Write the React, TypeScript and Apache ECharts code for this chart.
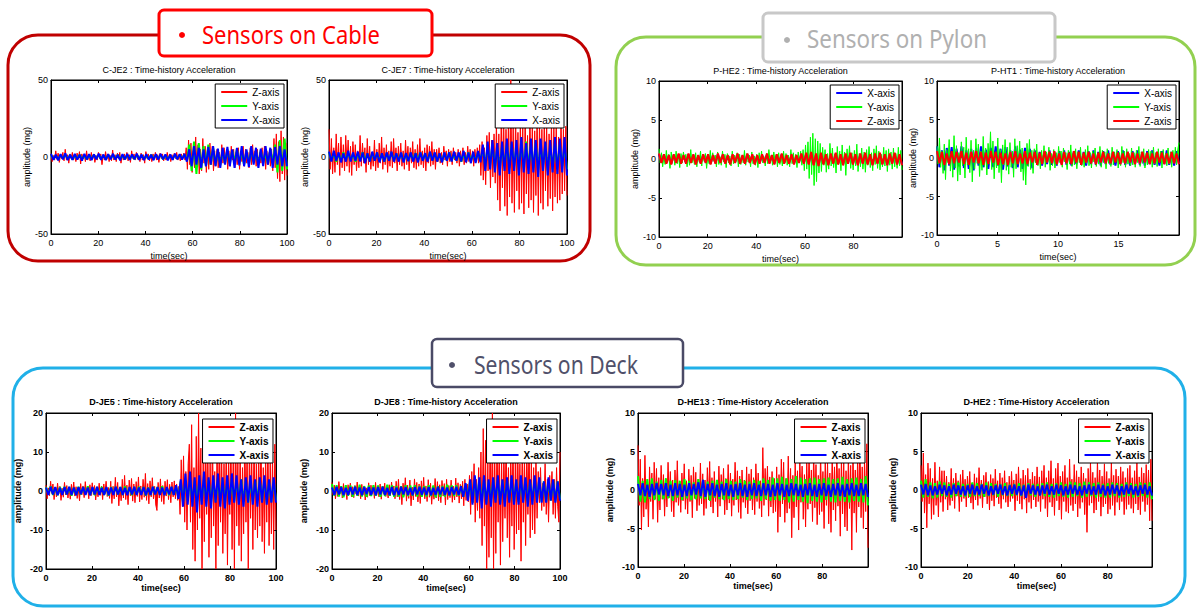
import React, { useEffect, useRef } from 'react';
import * as echarts from 'echarts';

// ---------- C-JE2 (cable) ----------
const cje2Z = [2,-3,1,-2,4,-1.5,2.5,-3.5,1,-1,3,-2.5,5,-2,1.5,-4,2,-1,3,-2,
  1,-3,2.5,-1.5,3.5,-4.5,2,-1,1.5,-3,4,-2,1,-2.5,3,-1.5,2,-3.5,1,-2,
  3,-1,2,-5,1.5,-2,3.5,-1.5,2,-3,1,-2.5,4.5,-2,1.5,-3,2.5,-1,3,-4,
  1,-2,2,-1.5,3,-2.5,1.5,-3.5,4,-1,2,-2,3,-1.5,1,-3,2.5,-2,1.5,-4,
  3.5,-1,2,-2.5,1,-3,2,-1.5,3,-2,1.5,-3.5,2.5,-1,2,-2.5,1,-2,3,-1.5,
  2,-3,1.5,-2,2.5,-1,3,-2,1.5,-2.5,2,-1,2.5,-2,
  6,-8,11,-5,9,-10,4,-7,13,-6,8,-11,5,-9,12,-4,7,-10,6,-8,9,-5,7,-9,4,-6,
  5,-7,3,-6,8,-4,6,-3,5,-8,4,-6,7,-2,5,-7,3,-5,6,-8,4,-3,7,-6,5,-4,3,-7,6,-5,8,-3,4,-6,5,-7,3,-4,6,-5,7,-8,4,-5,3,-6,5,
  -9,12,-7,15,-14,10,-16,17,-11,13,-15,9,-12];
const cje2Y = [1.5,-1.2,1,-1.5,1.3,-1,1.4,-1.2,1.1,-1.5,1.2,-1,1.5,-1.3,1,-1.4,1.2,-1.1,1.5,-1,
  1.3,-1.2,1,-1.5,1.4,-1,1.2,-1.3,1.5,-1.1,1,-1.4,1.3,-1.2,1.1,-1.5,1.4,-1,1.2,-1.3,
  1,-1.2,1.5,-1.1,1.3,-1,1.4,-1.5,1.1,-1.2,1,-1.3,1.5,-1.1,1.2,-1,1.4,
  -2,8,-9,10,-11,9,-8,7,-6,8,-5,6,-5,
  4,-5,3.5,-4,5,-4.5,4,-3,5,-4,3.5,-5,4,-4.5,5,-3.5,4,-5,4.5,-4,3,-4.5,5,-4,
  8,-10,11,-9,12,-8];
const cje2X = [2,-1.8,1.5,-2.2,1.8,-1.5,2.3,-2,1.6,-1.9,2.1,-1.7,1.5,-2.3,2,-1.6,1.8,-2.1,1.7,-1.5,
  2.2,-1.8,1.6,-2,1.9,-1.5,2.1,-1.7,1.5,-2.2,1.8,-1.6,2,-1.9,1.7,-1.5,2.2,-1.8,1.6,-2,
  1.9,-1.7,1.5,-2.1,1.8,-1.6,2,-1.5,1.7,-2.2,1.6,-1.8,2.1,-1.5,1.9,-1.7,2,
  -3,5,-6,7,-5,6,-7,5,-6,6.5,-5,7,-6,5.5,-7,6,-5,6.5,-6,5,-7,6,-5.5,7,-6,5,-6.5,7,-5,6,
  -7,5.5,-6,7,-5,6,-7,6.5,-5,7,-6,5,-6];

// ---------- C-JE7 (cable) ----------
const cje7Z = [18,-8,12,-11,6,-10,15,-5,9,-12,13,-7,8,-9,14,-6,11,-10,7,-12,
  10,-5,8,-9,4,-7,14,-6,9,-4,6,-10,12,-5,7,-8,3,-6,11,-9,
  5,-7,9,-4,13,-8,6,-5,8,-10,4,-6,10,-7,12,-4,6,-9,7,-5,
  9,-6,4,-8,11,-5,7,-9,6,-4,10,-7,5,-8,8,-6,12,-5,4,-7,
  6,-9,8,-4,7,-6,10,-5,5,-8,
  5,-3,6,-4,3,-5,7,-2,4,-6,5,-3,4,-5,6,-2,3,-4,5,-6,4,-3,6,-5,3,-4,7,-3,5,-4,4,-6,5,-3,6,-4,
  8,-12,10,-15,6,-18,14,-9,16,-20,11,-13,15,-17,
  22,-28,15,-35,26,-20,30,-32,18,-38,24,-26,50,-30,20,-36,28,-22,16,-34,
  25,-30,19,-37,27,-24,14,-33,29,-28,21,-36,17,-25,26,-38,23,-30,18,-34,
  28,-22,20,-32,15,-27,24,-35,19,-26,22,-30,13,-28,25,-24,18,-22,20,-25];
const cje7Y = [3,-2,2.5,-3,2,-2.5,3,-2,2.5,-2.2,2,-3,2.5,-2,3,-2.5,2,-2.8,2.5,-2,
  2.8,-2.5,2,-3,2.5,-2,3,-2.5,2.2,-2,2.5,-3,2,-2.5,2.8,-2,2.5,-2.2,3,-2,
  2,-2.5,3,-2,2.5,-2.8,2,-3,2.5,-2,3,-2.5,2,-2.2,2.5,-3,2,-2.5,3,-2.5,2,-2.5,3,-2,
  5,-6,7,-5,8,-7,6,-8,7,-6,9,-7,8,-6,7,-8,9,-7,10,-6,8,-7,9,-8,7,-6,8,-9,7,-8,9,-7,8,-6,7,-8];
const cje7X = [3.5,-3,4,-2.5,3,-3.5,2.5,-3,4,-3,3,-2.5,3.5,-3,3,-4,2.5,-3,3.5,-2.5,
  3,-3.5,2.5,-3,3,-2.5,3.5,-3,2.5,-3,3,-3.5,2.5,-2.8,3,-3,2.5,-3.5,3,-2.5,
  2.5,-3,3.5,-2.5,3,-3,2.5,-3.5,3,-2.5,3,-3,3.5,-2.5,3,-3,4,-3.5,3,-4,3.5,-4,4,-3.5,
  8,-9,10,-8,11,-10,9,-12,10,-9,12,-11,10,-9,11,-12,13,-10,9,-11,12,-10,11,-13,12,-9,10,-12,11,-10,13,-11,12,-10,13,-12];

// ---------- P-HE2 (pylon) ----------
const phe2X = [0.6,-0.4,0.5,-0.5,0.4,-0.6,0.5,-0.4,0.6,-0.5,0.4,-0.5,0.6,-0.4,0.5,-0.6,0.4,-0.5,0.5,-0.4,
  0.5,-0.6,0.4,-0.5,0.6,-0.4,0.5,-0.5,0.4,-0.6,0.5,-0.4,0.6,-0.5,0.4,-0.5,0.6,-0.4,0.5,-0.6,
  0.4,-0.5,0.5,-0.4,0.6,-0.5,0.4,-0.6,0.5,-0.4,0.6,-0.5,0.4,-0.5,0.5,-0.6,0.4,-0.4,0.6,-0.5,
  0.7,-0.6,0.8,-0.7,0.6,-0.8,0.7,-0.6,0.5,-0.7,0.6,-0.5,0.7,-0.6,0.5,-0.7,0.6,-0.5,0.7,-0.6,
  0.5,-0.7,0.6,-0.5,0.7,-0.6,0.5,-0.7,0.6,-0.5,0.7,-0.6,0.5,-0.7,0.6,-0.5,0.7,-0.6,0.5,-0.7];
const phe2Y = [1.3,-0.5,0.8,-1,0.3,-0.7,1.1,-0.4,0.6,-1.2,0.9,-0.3,0.5,-0.8,1,-0.6,0.4,-1.1,0.7,-0.5,
  0.9,-0.3,0.6,-1,0.4,-0.8,1.2,-0.5,0.3,-0.7,0.8,-1,0.5,-0.4,1,-0.9,0.6,-0.3,0.7,-1.2,
  0.4,-0.6,1.1,-0.5,0.8,-0.3,0.5,-1,0.9,-0.7,0.3,-0.8,1,-0.4,0.6,-1.1,0.7,-0.5,0.4,-0.9,
  1,-0.6,0.5,-0.3,0.8,-1,0.6,-0.7,0.3,-0.5,1.1,-0.8,0.7,-0.4,0.5,-1,0.9,-0.6,0.4,-0.8,
  0.6,-1.1,0.8,-0.4,1,-0.5,0.3,-0.9,0.7,-0.6,1.2,-0.5,0.5,-0.8,0.9,-0.3,0.6,-1,0.8,-0.7,
  0.4,-0.9,1,-0.5,0.7,-0.8,0.5,-1,1.2,-0.6,0.8,-0.4,0.6,-1.1,0.9,-0.5,1,-0.8,
  1.2,-1.5,1.8,-1.3,2.2,-2.5,2.8,-2,3.3,-3.4,2.6,-2.9,2.3,-1.8,2,-1.6,
  1.5,-0.8,1.2,-1.7,0.7,-1.3,2,-0.9,1.4,-1.1,0.6,-1.8,1.6,-0.7,1,-1.5,1.8,-0.8,0.9,-2.1,
  1.3,-0.6,1.7,-1.2,0.8,-1.4,1.1,-0.9,1.9,-1.6,0.7,-1,1.4,-1.3,0.9,-1.7,1.2,-0.8,1.6,-1.1,
  0.8,-1.5,1.3,-0.7,1.7,-1.2,1,-1.4,0.6,-1,1.5,-0.9,1.1,-1.6,1.3,-0.8,0.9,-1.3,1.4,-1,
  0.7,-1.2,1.5,-0.9,1.1,-1.4];
const phe2Z = [0.7,-0.5,0.6,-0.6,0.5,-0.7,0.6,-0.5,0.7,-0.6,0.5,-0.6,0.7,-0.5,0.6,-0.7,0.5,-0.6,0.6,-0.5,
  0.6,-0.7,0.5,-0.6,0.7,-0.5,0.6,-0.6,0.5,-0.7,0.6,-0.5,0.7,-0.6,0.5,-0.6,0.7,-0.5,0.6,-0.7,
  0.5,-0.6,0.6,-0.5,0.7,-0.6,0.5,-0.7,0.6,-0.5,0.7,-0.6,0.5,-0.6,0.6,-0.7,0.5,-0.5,0.7,-0.6,
  0.8,-0.7,0.9,-0.8,0.7,-0.9,0.8,-0.7,0.6,-0.8,0.7,-0.6,0.8,-0.7,0.6,-0.8,0.7,-0.6,0.8,-0.7,
  0.6,-0.8,0.7,-0.6,0.8,-0.7,0.6,-0.8,0.7,-0.6,0.8,-0.7,0.6,-0.8,0.7,-0.6,0.8,-0.7,0.6,-0.8];

// ---------- P-HT1 (pylon) ----------
const pht1X = [1.5,-1.2,1,-1.6,1.3,-1,1.4,-1.5,1.2,-1.1,1.5,-1.3,1,-1.4,1.2,-1.6,1.3,-1,1.5,-1.2,
  1.1,-1.4,1.3,-1.2,1.5,-1,1.2,-1.5,1.4,-1.1,1,-1.3,1.5,-1.2,1.1,-1.4,1.3,-1,1.2,-1.3,
  1,-0.9,0.8,-1,0.9,-0.8,1,-0.9,0.8,-1,0.9,-0.8,1,-0.9,0.8,-1,0.9,-0.8,1,-0.9,
  0.8,-1,0.9,-0.8,1,-0.9,0.8,-1,0.9,-0.8,1,-0.9,0.8,-1,0.9,-0.8,1,-0.9,0.8,-1,
  0.9,-0.8,1,-0.9,0.8,-1,0.9,-0.8,1,-0.9,0.8,-1,0.9,-0.8,1,-0.9,0.8,-1,0.9,-0.8];
const pht1Y = [1.5,-0.8,2.6,-1.2,0.9,-2,1.8,-2.8,1.1,-0.6,2.4,-1.7,0.8,-2.5,2.9,-1.3,1.6,-3,0.7,-2.2,
  2.1,-1,1.4,-2.6,2.7,-0.9,1.2,-1.9,2.3,-3.1,1,-1.4,2.5,-0.7,1.8,-2.4,0.9,-1.6,2.8,-1.1,
  1.3,-2.2,1.9,-0.8,3.4,-1.5,2.2,-2.7,0.8,-1.3,2.6,-1.9,1.1,-3.2,1.7,-0.9,2.4,-1.6,1.4,-2.1,
  2,-1.2,0.9,-2.5,2.5,-1.4,1.6,-0.8,2.2,-1.8,1.3,-2.9,0.8,-3.5,1.9,-1.1,2.4,-1.5,1,-2,
  1.2,-0.6,1.8,-1,0.5,-1.4,1,-0.7,1.6,-1.2,0.8,-0.5,1.4,-1.6,0.6,-1,1.1,-1.3,0.7,-0.9,
  1.5,-0.6,0.9,-1.2,1.3,-0.5,0.7,-1.5,1,-0.8,1.7,-1.1,0.6,-0.9,1.2,-1.4,0.8,-0.6,1.4,-1,
  0.5,-1.2,1.1,-0.7,1.6,-1,0.7,-1.3,0.9,-0.5,1.3,-1.1,0.6,-0.8,1.5,-1.2,1,-0.6,0.8,-1.4,
  1.2,-0.7,0.6,-1.1,1.4,-0.9,0.8,-0.5,1.1,-1.3,0.7,-1,1.5,-0.6,0.9,-1.2,1.2,-0.8,0.6,-1,
  1.3,-0.9,0.7,-1.2,1,-0.6,1.5,-1.1,0.8,-0.7,1.2,-1.3,0.6,-0.9,1.1,-0.5,0.9,-1.2,1.4,-0.8,
  0.7,-1.1,1.2,-0.6,0.9,-1.3,1.1,-0.7,0.6,-1,1.3,-0.8,0.8,-1.2,1,-0.6,1.4,-0.9,1.1,2];
const pht1Z = [0.9,-0.7,0.8,-0.9,0.6,-0.8,0.9,-0.7,0.8,-0.6,0.9,-0.8,0.7,-0.9,0.8,-0.6,0.9,-0.7,0.8,-0.9,
  0.7,-0.8,0.9,-0.6,0.8,-0.9,0.7,-0.8,0.6,-0.9,0.8,-0.7,0.9,-0.8,0.6,-0.7,0.9,-0.8,0.7,-0.6,
  0.8,-0.9,0.7,-0.8,0.9,-0.6,0.8,-0.7,0.9,-0.8,0.6,-0.9,0.8,-0.7,0.7,-0.8,0.9,-0.6,0.8,-0.9,
  0.7,-0.6,0.8,-0.7,0.6,-0.8,0.7,-0.6,0.8,-0.7,0.6,-0.7,0.8,-0.6,0.7,-0.8,0.6,-0.7,0.8,-0.6,
  0.7,-0.8,0.6,-0.7,0.8,-0.6,0.7,-0.8,0.6,-0.7,0.8,-0.6,0.7,-0.8,0.6,-0.7,0.8,-0.7,0.6,-0.8];

// ---------- D-JE5 (deck) ----------
const dje5Z = [1.5,-2,0.8,-1.2,2.5,-0.6,1.8,-2.2,1,-1.5,2,-0.8,1.2,-2.4,0.7,-1.6,2.2,-1,1.4,-1.8,
  0.9,-2.1,1.7,-0.7,2.3,-1.3,1.1,-1.9,0.6,-2.5,1.9,-1,1.3,-1.7,2.4,-0.8,1,-2,1.6,-1.2,
  2.1,-0.9,1.4,-2.3,0.8,-1.5,2,-1.1,1.2,-2.2,1.8,-0.7,2.5,-1.4,0.9,-1.9,
  2.5,-3.2,1.2,-2,3.5,-1.5,2.2,-3.8,1,-2.5,3,-1.8,4,-2.2,1.5,-3.5,2.8,-1.2,3.2,-2.6,
  1.8,-3,2.4,-1.4,3.6,-2.8,1.3,-2.2,3,-1.6,4.5,-2.4,1.9,-3.3,2.6,-1.5,3.4,-2,1.2,-3.6,
  -5,2.2,-1.8,3.1,-2.7,1.4,-3.4,2.5,-1.3,2.9,-2.2,1.7,-3,2.3,-1.5,2.6,-2,1.8,-2.4,1.2,
  -6,8,-4,9,-8,5,-10,7,
  12,-8,17,-15,6,-18,14,-10,20,-7,11,-20,9,-13,16,-6,13,-17,8,-12,
  15,-9,5,-20,12,-14,18,-8,10,-16,7,-11,14,-19,9,-6,13,-15,11,-20,
  20,-9,8,-14,12,-18,6,-11,15,-8,10,-20,13,-7,9,-15,14,-10,7,-12,
  11,-9,15,-13,6,-16,10,-8,13,-14,8,-11,9,-15,12,-10];
const dje5Y = [1,-0.8,1.2,-1,0.9,-1.1,1,-0.8,1.1,-0.9,1,-1.2,0.8,-1,1.1,-0.9,1,-0.8,1.2,-1,
  0.9,-1.1,1,-0.8,1.1,-1,0.9,-1.2,1,-0.8,1.1,-0.9,1,-1,1.2,-0.8,0.9,-1.1,1,-0.9,
  1.1,-0.8,1,-1.2,0.9,-1,1.1,-0.8,1,-0.9,1.2,-1,0.8,-1.1,1,-0.9,1.1,-1.5,
  2.5,-3,2.8,-2.5,3,-2.8,2.5,-3,2.7,-2.6,3,-2.5,2.8,-3,2.6,-2.7,3,-2.5,2.8,-3,2.5,-2.8,3,-2.6,2.7,-2.5,3,-2.8,2.6,-3,
  2.5,-2.7,2.8,-2.5,3,-2.6,2.7,-3,2.5,-2.8,3,-2.5];
const dje5X = [0.9,-1,1.1,-0.9,1,-1.1,0.8,-1,1,-0.9,1.1,-1,0.9,-1.1,1,-0.8,1,-1,0.9,-1.1,
  1,-0.9,1.1,-1,0.8,-1,1,-1.1,0.9,-1,1.1,-0.9,1,-1,0.8,-1.1,1,-0.9,1.1,-1,
  0.9,-1,1,-1.1,0.8,-1,1.1,-0.9,1,-1,0.9,-1.1,1,-0.9,1.1,-1,1.5,-2,
  3,-4,4.5,-3.5,5,-4,3.5,-5.5,4,-3.5,5,-4,3.5,-4.5,4,-3,4.5,-4,3.5,-4.5,4,-3.5,4.5,-3,4,-3.5,3,-4,3.5,-3,
  4,-3.5,3,-4,3.5,-3,4,-3.5,3,-3,3.5,-3];

// ---------- D-JE8 (deck) ----------
const dje8Z = [2.2,-1,1.5,-2,0.8,-1.4,2.4,-0.7,1.2,-1.8,1.9,-1.1,0.7,-2.2,1.6,-0.9,2,-1.5,1.1,-1.7,
  1.4,-0.8,2.3,-1.3,0.9,-2,1.7,-1,1.3,-2.3,0.8,-1.6,2.1,-1.2,1.5,-0.7,1,-1.9,2.2,-1.1,
  0.9,-1.5,1.8,-2.1,1.2,-0.8,2,-1.4,0.7,-1.8,1.6,-1.2,2.3,-0.9,1.3,-2,
  2.5,-1.5,3,-2.2,1.2,-3.5,2,-1.1,3.4,-2.6,1.5,-1.9,2.8,-3.8,1,-2.3,3.1,-1.4,2.2,-2.8,
  1.8,-3.2,2.6,-1.2,3.5,-2,1.3,-2.7,2.9,-1.6,2,-3.4,1.1,-2.1,3.2,-1.8,2.4,-2.5,1.6,-3,
  2.7,-1.3,1.9,-3.6,3,-2.2,1.4,-1.7,2.8,-2.9,1.2,-2.3,3.3,-1.5,2.1,-3.1,1.7,-2,2.5,-3.8,
  3,-2.4,1.8,-2.8,
  4,-6,5,-3,7,-8,3,-5,6,-7,
  10,-14,16,-9,13,-20,8,-17,15,-12,20,-20,11,-16,14,-8,12,-19,9,-13,
  10,-7,14,-12,6,-17,11,-9,13,-15,8,-11,17,-10,7,-18,12,-8,9,-14,11,-6,13,-12,8,-10,6,-11,9,-7,
  5,-3,6,-5,2,-4,7,-6,3,-8,4,-2,5,-6,3,-7,6,-4,-8,10];
const dje8Y = [1.8,-1.2,1.5,-1.4,1.2,-1.6,1.5,-1.2,1.4,-1.5,1.3,-1.2,1.6,-1.4,1.2,-1.5,1.4,-1.3,1.5,-1.2,
  1.4,-1.5,1.2,-1.3,1.6,-1.2,1.4,-1.5,1.3,-1.4,1.2,-1.6,1.5,-1.3,1.4,-1.2,1.5,-1.4,1.3,-1.5,
  1.2,-1.4,1.5,-1.3,1.4,-1.6,1.2,-1.5,1.3,-1.4,1.6,-1.2,1.4,-1.3,1.5,-1.2,1.3,-1.5,1.6,-1.8,
  2.5,-3,2.8,-2.5,3,-2.6,2.7,-3,2.5,-2.8,3,-2.5,2.8,-3,2.6,-2.7,3,-2.5,2.8,-3,
  2.6,-2.8,3,-2.5,2.7,-3,2.5,-2.6,2.8,-2.5,3,-2.7,2.5,-2.8,2.6,-2.5,2.8,-2.6,2.5,-2.2];
const dje8X = [0.9,-1,1.1,-0.9,1,-1.1,0.8,-1,1,-0.9,1.1,-1,0.9,-1.1,1,-0.8,1,-1,0.9,-1.1,
  1,-0.9,1.1,-1,0.8,-1,1,-1.1,0.9,-1,1.1,-0.9,1,-1,0.8,-1.1,1,-0.9,1.1,-1,
  0.9,-1,1,-1.1,0.8,-1,1.1,-0.9,1,-1,0.9,-1.1,1,-0.9,1.1,-1,1.2,-1.5,2,-2.5,
  3,-3.5,4,-3,3.5,-4.5,4,-3.5,3,-4,3.5,-3,4,-3.5,3,-4,3.5,-3,4,-3.5,
  3,-3.5,4,-3,3.5,-4,3,-3.5,4,-3,3.5,-3,2.5,-3,3.5,-2.5,3,-3,2.5,-2.5];

// ---------- D-HE13 (deck) ----------
const dhe13Z = [5.8,-2,4,-5.2,1.5,-3.5,4.5,-2.5,1,-4.8,3,-1.5,2.2,-3.8,3.6,-1.2,2.8,-4.2,1.6,-2.6,
  3.2,-1.2,2,-3.4,1.5,-2.2,3.6,-1,2.4,-2.8,1.3,-3.5,2.6,-1.6,3.8,-2,1.1,-2.9,2.2,-1.4,
  3.4,-2.5,1.2,-3.1,2.7,-1.5,1.9,-3.6,3,-1.1,2.3,-2.7,1.4,-2,3.5,-1.8,2.1,-3.3,1.3,-2.4,
  2.9,-1.3,3.7,-2.2,1.6,-3,2.4,-1.5,1.2,-3.5,3.1,-2.1,2,-1.2,2.8,-3.2,1.5,-2.6,3.3,-1.7,
  2.2,-3.4,1.4,-2,3.6,-1.3,2.5,-2.9,1.8,-3.7,2.6,-1.6,1.3,-2.3,3,-3.1,2.1,-1.4,2.7,-2.6,
  1.6,-3.2,3.4,-1.5,2.2,-2.4,1.2,-3.5,5.5,-2,2.8,-1.3,3.1,-3.4,1.7,-2.2,2.4,-3,1.5,-2.8,
  3,-5.5,2,-3.5,4,-1.8,3.6,-4.2,1.5,-3,4.4,-2.4,2.8,-6.2,1.9,-3.6,3.8,-2.2,2.5,-5.2,
  4.2,-1.6,3.1,-3.8,2,-4.8,3.6,-2.5,4.5,-1.8,2.6,-4.1,5,-2.3,3.3,-4.5,1.9,-3.2,4.7,-2.8,
  2.4,-5,4.1,-2,3.5,-4.4,2.2,-5.5,4.8,-2.6,3,-4,5.5,-2.1,2.8,-6,4.2,-3.1,3.6,-4.8,
  2.5,-5.3,4.6,-2.4,3.2,-7.8,5,-3,2.6,-5.5,4.4,-2.2,6.2,-3.6,3,-5,4,-2.8,6,-7.5];
const dhe13Y = [1.8,-1.5,1.2,-1.6,1.4,-1.2,1.5,-1.3,1.1,-1.4,1.3,-1.2,1.5,-1.1,1.2,-1.4,1.3,-1,1.2,-1.3,
  1.4,-1.1,1.2,-1.3,1,-1.2,1.4,-1.1,1.3,-1.2,1.1,-1.4,1.2,-1,1.3,-1.2,1.1,-1.3,1.4,-1.2,
  1.2,-1.3,1.1,-1.2,1.4,-1,1.2,-1.3,1.1,-1.2,1.3,-1.1,1.2,-1.4,1.5,-1.2,1.3,-1.4,1.6,-1.3,
  1.5,-1.4,1.7,-1.3,1.5,-1.6,1.4,-1.5,1.8,-1.3,1.6,-1.5,1.4,-1.7,1.5,-1.4,1.6,-1.5,1.4,-1.6,
  1.5,-1.3,1.6,-1.5,1.4,-1.6,1.5,-1.4,1.7,-1.5,1.4,-1.6,1.5,-1.4,1.6,-1.5,1.4,-1.6,1.8,-2];
const dhe13X = [0.8,-0.7,0.9,-0.8,0.7,-0.9,0.8,-0.7,0.9,-0.6,0.8,-0.7,0.9,-0.8,0.7,-0.8,0.9,-0.7,0.8,-0.9,
  0.7,-0.8,0.9,-0.7,0.8,-0.6,1,-0.8,1.3,-0.9,0.8,-0.7,0.9,-0.8,0.7,-0.9,0.8,-0.7,0.9,-0.8,
  0.7,-0.9,0.8,-0.7,0.9,-0.8,0.7,-0.9,0.8,-0.7,0.9,-0.8,0.7,-0.8,0.9,-0.7,0.8,-0.9,0.7,-0.8,
  0.9,-0.7,0.8,-0.9,0.7,-0.8,0.9,-0.7,0.8,-0.8,0.7,-0.9,0.8,-0.7,0.9,-0.8,0.7,-0.9,0.8,-0.7,
  0.9,-0.8,0.7,-0.9,0.8,-0.7,0.9,-0.8,0.7,-0.9,0.8,-0.7,0.9,-0.8,0.7,-0.8,0.9,-0.7,0.8,-0.9];

// ---------- D-HE2 (deck) ----------
const dhe2Z = [3.2,-1.5,4.8,-3,2,-4.9,3.5,-1.8,2.8,-3.8,1.5,-3.2,3.6,-2,1.2,-3.5,3,-1.6,2.5,-2.8,
  2.5,-1.2,1.8,-2.6,1,-2,2.8,-1.4,1.5,-2.4,2.2,-0.8,1.2,-2.8,2,-1.5,2.6,-1.1,1.4,-2.2,
  1.8,-1,2.4,-1.7,0.9,-2.5,2.1,-1.3,1.6,-2,2.9,-1.1,1.3,-2.3,1.9,-0.9,2.3,-1.8,1.1,-2.6,
  2,-1.4,1.5,-2.1,2.7,-1,1.2,-1.8,2.2,-2.4,1.6,-1.2,2.5,-1.6,1,-2.2,1.8,-1.5,2.4,-1.1,
  1.3,-2.7,2.1,-1.4,3,-1.8,1.5,-2.5,2.6,-1.2,1.9,-3,2.8,-1.6,1.4,-2.4,2.3,-1.3,1.8,-2.2,
  3,-1.5,1.7,-2.8,2.5,-1.2,3.2,-2.4,1.6,-3.5,
  2.5,-1.6,3.8,-2.2,1.5,-3.3,2.8,-1.4,3.5,-2.6,1.8,-3.8,2.4,-1.5,3.2,-2.8,1.6,-3,4,-2,
  1.4,-2.7,3.3,-1.8,2.5,-3.5,1.7,-2.4,3,-1.6,2.2,-3.2,1.5,-5.5,2.8,-2,3.6,-1.7,2.3,-3,
  1.6,-2.6,3.8,-1.5,2.6,-3.4,1.8,-2.2,3.4,-1.8,2.4,-3.1,1.5,-2.5,3.7,-2,1.9,-3.3,2.7,-1.6,
  1.8,-2.6,3,-1.5,2.4,-3.2,1.6,-2.5,2.8,-1.9,
  3.2,-2.4,1.6,-3,2.5,-1.8,3.5,-2.6,1.7,-3.2,2.9,-1.5,2.2,-2.8,3.3,-1.9,2.6,-4,4,-4];
const dhe2Y = [1.2,-1,1.4,-0.9,1,-1.1,0.9,-1,1.1,-0.8,1,-0.9,0.8,-1,0.9,-0.8,1,-0.9,0.8,-0.9,
  0.8,-0.9,1,-0.8,0.9,-0.8,0.8,-0.9,1,-0.8,0.9,-0.7,0.8,-0.9,0.8,-0.7,0.9,-0.8,0.7,-0.8,
  0.8,-0.7,0.9,-0.8,0.7,-0.8,0.9,-0.7,0.8,-0.9,0.8,-0.7,0.9,-0.8,1,-0.9,0.8,-1,0.9,-0.8,
  1,-0.9,0.8,-1,1.1,-0.9,1,-0.8,0.9,-1,1.1,-0.9,1,-0.8,0.9,-1,1,-0.9,0.8,-1,
  0.9,-1,1,-0.8,0.9,-1,0.8,-0.9,1,-0.8,0.9,-1,0.8,-0.9,1,-0.8,0.9,-1,1,-1.2];
const dhe2X = [0.7,-0.6,0.8,-0.7,0.6,-0.7,0.5,-0.6,0.7,-0.5,0.6,-0.7,0.5,-0.6,0.7,-0.5,0.6,-0.6,0.5,-0.7,
  0.6,-0.5,0.7,-0.6,0.5,-0.6,0.7,-0.5,0.6,-0.7,0.5,-0.6,0.6,-0.5,0.7,-0.6,0.5,-0.7,0.6,-0.5,
  0.7,-0.6,0.5,-0.7,0.6,-1,0.7,-0.5,0.6,-0.6,0.5,-0.7,0.6,-0.5,0.7,-0.6,0.5,-0.6,0.7,-0.5,
  0.6,-0.7,0.5,-0.6,0.7,-0.5,0.6,-0.6,0.5,-0.7,0.6,-0.5,0.7,-0.6,0.5,-0.6,0.7,-0.5,0.6,-0.7,
  0.5,-0.6,0.7,-0.5,0.6,-0.7,0.5,-0.6,0.7,-0.5,0.6,-0.6,0.5,-0.7,0.6,-0.5,0.7,-0.6,0.5,-0.7];

// ---------- labels ----------
const legendZYX = ['Z-axis', 'Y-axis', 'X-axis'];
const legendXYZ = ['X-axis', 'Y-axis', 'Z-axis'];
const groupTitles = ['Sensors on Cable', 'Sensors on Pylon', 'Sensors on Deck'];

const W = 1200;
const H = 609;
const PLAIN = '"Liberation Sans", Arial, sans-serif';
const DECK = '"Liberation Sans Narrow", "Liberation Sans", Arial, sans-serif';
const COLORS: Record<string, string> = { 'Z-axis': '#ff0000', 'Y-axis': '#00ff00', 'X-axis': '#0000ff' };

interface Panel {
  title: string;
  box: [number, number, number, number];
  xMax: number; xInt: number;
  yMin: number; yMax: number; yInt: number;
  legend: string[];
  draw: [string, number[]][];
  deck: boolean;
}

const panels: Panel[] = [
  { title: 'C-JE2 : Time-history Acceleration', box: [51, 80, 236, 154], xMax: 100, xInt: 20, yMin: -50, yMax: 50, yInt: 50,
    legend: legendZYX, draw: [['Z-axis', cje2Z], ['Y-axis', cje2Y], ['X-axis', cje2X]], deck: false },
  { title: 'C-JE7 : Time-history Acceleration', box: [329, 80, 238, 154], xMax: 100, xInt: 20, yMin: -50, yMax: 50, yInt: 50,
    legend: legendZYX, draw: [['Z-axis', cje7Z], ['Y-axis', cje7Y], ['X-axis', cje7X]], deck: false },
  { title: 'P-HE2 : Time-history Acceleration', box: [659, 81, 243, 156], xMax: 99.9, xInt: 20, yMin: -10, yMax: 10, yInt: 5,
    legend: legendXYZ, draw: [['X-axis', phe2X], ['Y-axis', phe2Y], ['Z-axis', phe2Z]], deck: false },
  { title: 'P-HT1 : Time-history Acceleration', box: [937, 81, 242, 154], xMax: 19.99, xInt: 5, yMin: -10, yMax: 10, yInt: 5,
    legend: legendXYZ, draw: [['X-axis', pht1X], ['Y-axis', pht1Y], ['Z-axis', pht1Z]], deck: false },
  { title: 'D-JE5 : Time-history Acceleration', box: [46, 413, 230, 156], xMax: 100, xInt: 20, yMin: -20, yMax: 20, yInt: 10,
    legend: legendZYX, draw: [['Z-axis', dje5Z], ['Y-axis', dje5Y], ['X-axis', dje5X]], deck: true },
  { title: 'D-JE8 : Time-history Acceleration', box: [332, 413, 228, 156], xMax: 100, xInt: 20, yMin: -20, yMax: 20, yInt: 10,
    legend: legendZYX, draw: [['Z-axis', dje8Z], ['Y-axis', dje8Y], ['X-axis', dje8X]], deck: true },
  { title: 'D-HE13 : Time-History Acceleration', box: [638, 413, 230, 154], xMax: 99.9, xInt: 20, yMin: -10, yMax: 10, yInt: 5,
    legend: legendZYX, draw: [['Z-axis', dhe13Z], ['Y-axis', dhe13Y], ['X-axis', dhe13X]], deck: true },
  { title: 'D-HE2 : Time-History Acceleration', box: [921, 413, 231, 154], xMax: 99, xInt: 20, yMin: -10, yMax: 10, yInt: 5,
    legend: legendZYX, draw: [['Z-axis', dhe2Z], ['Y-axis', dhe2Y], ['X-axis', dhe2X]], deck: true },
];

function fitScale(text: string, font: string, target: number): number {
  const c = document.createElement('canvas').getContext('2d');
  if (!c) return 1;
  c.font = font;
  const w = c.measureText(text).width;
  return w > 0 ? target / w : 1;
}

function buildOption() {
  const grid: any[] = [], xAxis: any[] = [], yAxis: any[] = [], series: any[] = [], legend: any[] = [], graphic: any[] = [];

  graphic.push({ type: 'rect', shape: { x: 8, y: 35, width: 582, height: 226, r: 30 }, style: { fill: 'none', stroke: '#c00000', lineWidth: 3 } });
  graphic.push({ type: 'rect', shape: { x: 616, y: 37, width: 579, height: 228, r: 30 }, style: { fill: 'none', stroke: '#92d050', lineWidth: 3 } });
  graphic.push({ type: 'rect', shape: { x: 13, y: 368, width: 1172, height: 238, r: 30 }, style: { fill: 'none', stroke: '#20b0e8', lineWidth: 3 } });

  const big = '25px "Noto Sans", "DejaVu Sans", sans-serif';
  const boxes = [
    { x: 159, y: 10, w: 273, h: 46, stroke: '#ff0000', lw: 3, color: '#ff0000', bx: 182, tx: 202, ty: 34, tw: 178 },
    { x: 763, y: 13, w: 292, h: 49, stroke: '#c8c8c8', lw: 3, color: '#b0b0b0', bx: 787, tx: 807, ty: 39, tw: 180 },
    { x: 432, y: 339, w: 251, h: 48, stroke: '#4a4a66', lw: 2.5, color: '#50506a', bx: 452, tx: 474, ty: 364, tw: 164 },
  ];
  boxes.forEach((b, i) => {
    graphic.push({ type: 'rect', shape: { x: b.x, y: b.y, width: b.w, height: b.h, r: 5 }, style: { fill: '#ffffff', stroke: b.stroke, lineWidth: b.lw } });
    graphic.push({ type: 'circle', shape: { cx: b.bx, cy: b.ty + 1, r: 3 }, style: { fill: b.color } });
    graphic.push({ type: 'text', x: b.tx, y: b.ty, scaleX: fitScale(groupTitles[i], big, b.tw), style: { text: groupTitles[i], font: big, fill: b.color, align: 'left', verticalAlign: 'middle' } });
  });

  panels.forEach((p, i) => {
    const [l, t, w, h] = p.box;
    const font = p.deck ? DECK : PLAIN;
    const fw = p.deck ? 'bold' : 'normal';
    const txt = { fontSize: 9, color: '#000', fontFamily: font, fontWeight: fw };
    grid.push({ left: l, top: t, width: w, height: h, show: true, borderColor: '#000', borderWidth: 1, backgroundColor: '#fff' });
    const fmt = (step: number) => (v: number) => (Math.abs(v / step - Math.round(v / step)) < 1e-6 ? String(Math.round(v)) : '');
    const common = {
      type: 'value', gridIndex: i, splitLine: { show: false },
      axisLine: { show: true, onZero: false, lineStyle: { color: '#000', width: 1 } },
      axisTick: { show: true, inside: true, length: 3, lineStyle: { color: '#000' } },
    };
    xAxis.push({ ...common, min: 0, max: p.xMax, interval: p.xInt, position: 'bottom',
      axisLabel: { ...txt, margin: 4, formatter: fmt(p.xInt) },
      name: 'time(sec)', nameLocation: 'middle', nameGap: p.deck ? 14 : 17, nameTextStyle: txt });
    xAxis.push({ ...common, min: 0, max: p.xMax, interval: p.xInt, position: 'top', axisLabel: { show: false } });
    yAxis.push({ ...common, min: p.yMin, max: p.yMax, interval: p.yInt, position: 'left',
      axisLabel: { ...txt, margin: 3, formatter: fmt(p.yInt) },
      name: 'amplitude (mg)', nameLocation: 'middle', nameGap: p.deck ? 24 : 20, nameTextStyle: txt });
    yAxis.push({ ...common, min: p.yMin, max: p.yMax, interval: p.yInt, position: 'right', axisLabel: { show: false } });

    p.draw.forEach(([name, data]) => {
      const dense = data.length > 150;
      series.push({
        type: 'line', name, xAxisIndex: 2 * i, yAxisIndex: 2 * i,
        data: data.map((v, k) => [(k * p.xMax) / (data.length - 1), v]),
        showSymbol: false, symbol: 'none', silent: true, clip: true,
        lineStyle: { width: dense ? 1 : 2, color: COLORS[name] }, itemStyle: { color: COLORS[name] },
        areaStyle: { color: COLORS[name], opacity: 1, origin: 0 },
      });
    });

    legend.push({
      orient: 'vertical', right: W - (l + w) + 3, top: t + (p.deck ? 6 : 4),
      data: p.legend, icon: 'rect', itemWidth: 26, itemHeight: 2, itemGap: 2,
      padding: [2, 4, 2, 6], backgroundColor: '#fff', borderColor: '#000', borderWidth: 1, borderRadius: 0,
      selectedMode: false,
      textStyle: { fontSize: 10, lineHeight: 12, color: '#000', fontFamily: font, fontWeight: fw },
    });

    graphic.push({ type: 'text', x: l + w / 2, y: t - (p.deck ? 11 : 10),
      style: { text: p.title, font: `${fw} 9px ${font}`, fill: '#000', align: 'center', verticalAlign: 'middle' } });
  });

  return { animation: false, backgroundColor: '#ffffff', grid, xAxis, yAxis, series, legend, graphic };
}

export default function App() {
  const ref = useRef<HTMLDivElement>(null);
  useEffect(() => {
    if (!ref.current) return;
    const chart = echarts.init(ref.current, undefined, { renderer: 'svg' });
    chart.setOption(buildOption() as any);
    return () => chart.dispose();
  }, []);
  return <div ref={ref} style={{ position: 'fixed', left: 0, top: 0, width: W, height: H, background: '#fff' }} />;
}
